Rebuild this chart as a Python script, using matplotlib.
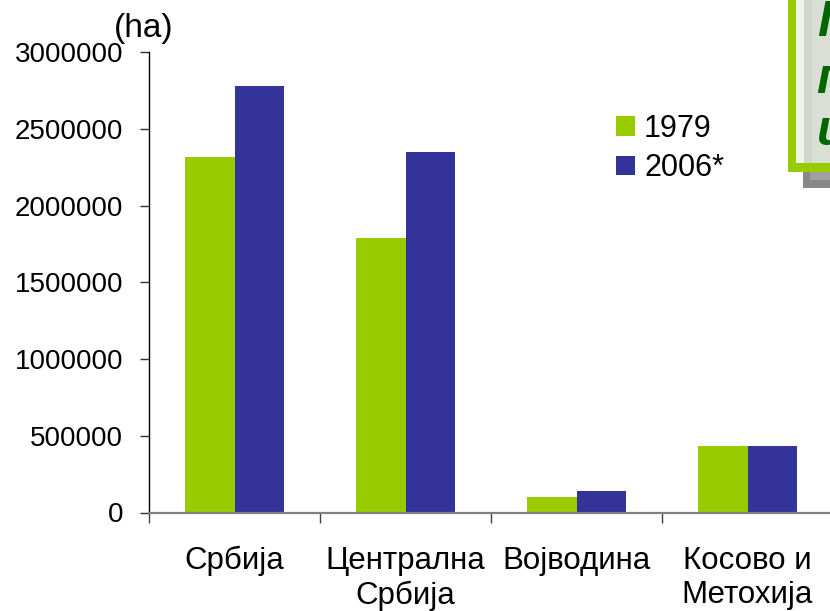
import matplotlib.pyplot as plt
from matplotlib.patches import Rectangle
import numpy as np

plt.rcParams['font.family'] = ['Liberation Sans', 'DejaVu Sans']

# Data (ha)
regions = ["Србија", "Централна\nСрбија", "Војводина", "Косово и\nМетохија"]
years = ["1979", "2006*"]
area_1979 = [2320000, 1792000, 104000, 434000]
area_2006 = [2781000, 2351000, 143000, 434000]

GREEN = "#99CC00"
BLUE = "#333399"
W, H = 830, 611


def px(x, y_top):
    """pixel coords (from top-left) -> figure fraction"""
    return x / W, 1 - y_top / H


fig = plt.figure(figsize=(W / 100, H / 100), dpi=100)
# plot area: y axis at x=149, zero at y=512.5, 3M at y=52.3, 171 px per category
ax = fig.add_axes([149 / W, (H - 512.5) / H, 4 * 171 / W, (512.5 - 52.3) / H])

x = np.arange(len(regions))
bw = 0.29
ax.bar(x - bw / 2, area_1979, bw, color=GREEN, label=years[0], zorder=2)
ax.bar(x + bw / 2, area_2006, bw, color=BLUE, label=years[1], zorder=2)

ax.set_xlim(-0.5, len(regions) - 0.5)
ax.set_ylim(0, 3000000)
ax.set_yticks(np.arange(0, 3000001, 500000))
ax.set_yticklabels([str(v) for v in range(0, 3000001, 500000)], fontsize=20)

# category boundaries as major ticks, labels on minor ticks
ax.set_xticks(np.arange(-0.5, len(regions), 1.0))
ax.set_xticklabels([])
ax.set_xticks(x, minor=True)
ax.set_xticklabels(regions, minor=True, fontsize=22.5, linespacing=1.2)
ax.tick_params(axis='x', which='minor', length=0, pad=24)
ax.tick_params(axis='x', which='major', length=7, width=1, color="#404040")
ax.tick_params(axis='y', length=6.5, width=1, pad=12, color="#303030")

for side in ["top", "right"]:
    ax.spines[side].set_visible(False)
ax.spines["left"].set_color("black")
ax.spines["left"].set_linewidth(1)
ax.spines["bottom"].set_color("#808080")
ax.spines["bottom"].set_linewidth(1.6)
ax.spines["bottom"].set_zorder(3)

fig.text(*px(114, 37), "(ha)", fontsize=24, ha="left", va="baseline")

ax.legend(loc="upper left", bbox_to_anchor=px(616, 114), bbox_transform=fig.transFigure,
          frameon=False, fontsize=22, handlelength=0.62, handleheight=0.62,
          handletextpad=0.3, labelspacing=0.3, borderpad=0, borderaxespad=0)

# title box at top right (cut off by the figure edge, as in the original)
def box(x0, y0, x1, y1, color):
    fig.patches.append(Rectangle(px(x0, y1), (x1 - x0) / W, (y1 - y0) / H,
                                 transform=fig.transFigure, facecolor=color,
                                 edgecolor="none", zorder=1))

box(803, 172, 850, 188, "#888888")
box(810, 172, 850, 180, "#A0A0A0")
box(788, -10, 850, 172, GREEN)
box(796, -10, 850, 163, "#DADFD5")
box(796, -10, 804, 163, "#F0F4EA")
box(804, -10, 812, 163, "#D0D6CC")

for line, base in zip(["Површина", "под шумом", "и шумско"], [36, 93, 145]):
    fig.text(*px(817, base), line, fontsize=36, fontweight="bold", style="italic",
             color="#006600", ha="left", va="baseline")

fig.savefig("out.png", dpi=100)
